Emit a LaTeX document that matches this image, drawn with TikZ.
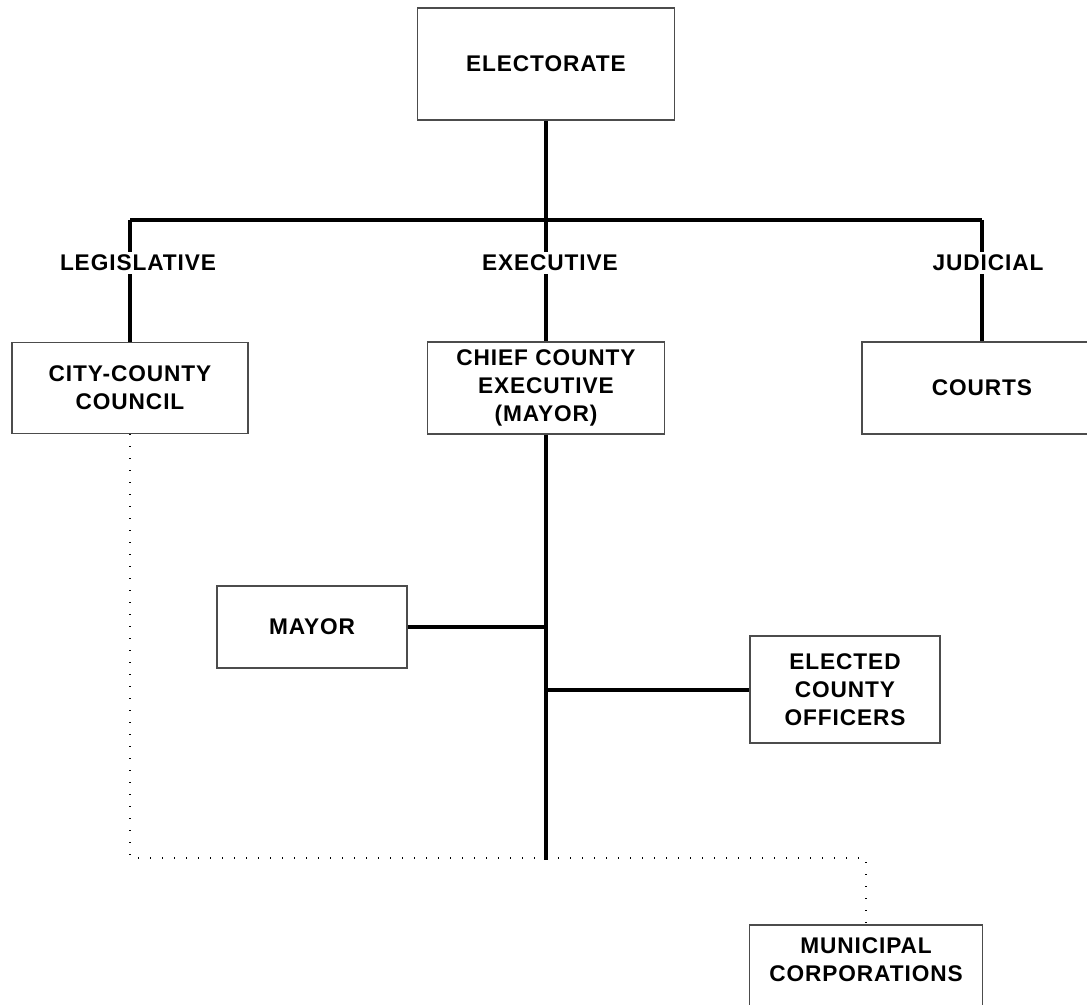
\documentclass[tikz,border=0pt]{standalone}
\usepackage{fontspec}
\setmainfont{Liberation Sans}[LetterSpace=4]

\begin{document}
\begin{tikzpicture}
  [x=0.75pt, y=-0.75pt,
   every node/.style={font=\bfseries\fontsize{17}{21}\selectfont, align=center},
   office/.style={draw=black!70, line width=1.2pt, fill=white, inner sep=0pt},
   branch/.style={fill=white, inner sep=2pt},
   link/.style={line width=3pt},
   weak/.style={line width=1.6pt, dash pattern=on 0.8pt off 8.2pt}]
  \useasboundingbox (0,0) rectangle (1087,1005);
  % top and the three branches
  \node[office, minimum width=193pt, minimum height=84pt] (elect) at (546,64) {ELECTORATE};
  \node[office, minimum width=177pt, minimum height=68pt] (council) at (130,388) {CITY-COUNTY\\COUNCIL};
  \node[office, minimum width=178pt, minimum height=69pt] (chief) at (546,388) {CHIEF COUNTY\\EXECUTIVE\\(MAYOR)};
  \node[office, minimum width=180pt, minimum height=69pt] (courts) at (982,388) {COURTS};
  % under the executive
  \node[office, minimum width=142.5pt, minimum height=61.5pt] (mayor) at (312,627) {MAYOR};
  \node[office, minimum width=142.5pt, minimum height=80pt] (officers) at (845,689.5) {ELECTED\\COUNTY\\OFFICERS};
  \node[office, minimum width=175pt, anchor=north, inner ysep=10pt, text depth=50pt] (munic) at (866,924) {MUNICIPAL\\CORPORATIONS};
  \coordinate (barL) at (130,220);
  \coordinate (barM) at (546,220);
  \coordinate (barR) at (982,220);
  \coordinate (trunk) at (546,860);
  \coordinate (dotL) at (130,858);
  \coordinate (dotR) at (866,858);
  \draw[link] (elect) -- (barM);
  \draw[link] (barL) -- (barR);
  \draw[link] (barL) -- (council);
  \draw[link] (barM) -- (chief);
  \draw[link] (barR) -- (courts);
  \draw[link] (chief) -- (trunk);
  \draw[link] (mayor) -- (mayor -| trunk);
  \draw[link] (officers -| trunk) -- (officers);
  \draw[weak] (council.south) -- (dotL) -- (dotR) -- (munic.north);
  \node[branch] (leg) at (138,263) {LEGISLATIVE};
  \node[branch] (exe) at (550,263) {EXECUTIVE};
  \node[branch] (jud) at (988,263) {JUDICIAL};
\end{tikzpicture}
\end{document}
